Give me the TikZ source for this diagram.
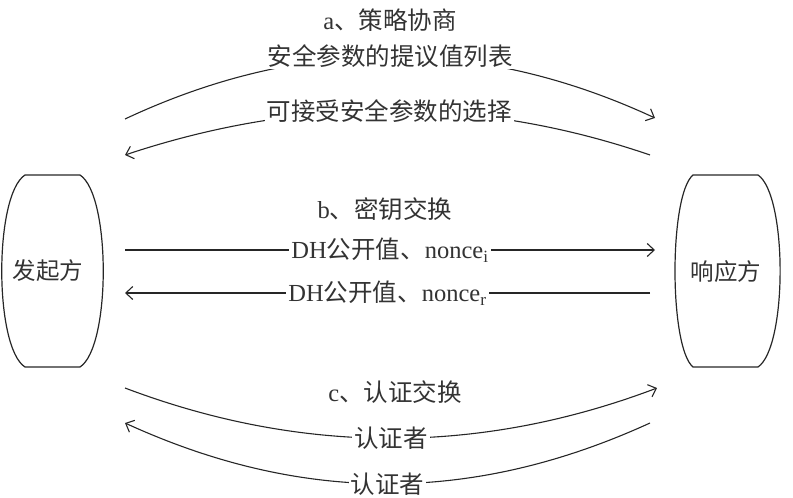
\documentclass[tikz,border=0pt]{standalone}
\usepackage{fontspec}
\setmainfont{Liberation Serif}
\newfontfamily\cjk{Noto Sans CJK SC}
\usetikzlibrary{arrows.meta}
\begin{document}
\begin{tikzpicture}[x=1pt,y=-1pt,
  txt/.style={font=\fontsize{24.5}{27}\selectfont, text=black!80, inner sep=2pt},
  lbl/.style={txt, fill=white, inner xsep=2pt, inner ysep=1pt},
  msg/.style={line width=1.1pt, draw=black!85, -{Straight Barb[length=7pt,width=13pt,line width=1.1pt]}},
  barrel/.style={line width=1.2pt, draw=black!85}]
\useasboundingbox (0,0) rectangle (793,498);

% parties
\draw[barrel] (25,175) -- (80,175) .. controls (111,195) and (111,347) .. (80,367)
  -- (25,367) .. controls (-6,347) and (-6,195) .. (25,175) -- cycle;
\node[txt, font=\fontsize{23.5}{26}\selectfont] (ini) at (48,271) {\cjk 发起方};
\draw[barrel] (693,175) -- (758,175) .. controls (787.5,195) and (787.5,347) .. (758,367)
  -- (693,367) .. controls (669,347) and (669,195) .. (693,175) -- cycle;
\node[txt, font=\fontsize{23.5}{26}\selectfont] (res) at (726,272) {\cjk 响应方};

% end points
\coordinate (a1s) at (125,119);
\coordinate (a1e) at (655,118);
\coordinate (a2s) at (650,155);
\coordinate (a2e) at (125,155);
\coordinate (b1s) at (125,250);
\coordinate (b1e) at (655,250);
\coordinate (b2s) at (650,293);
\coordinate (b2e) at (125,293);
\coordinate (c1s) at (125,388);
\coordinate (c1e) at (657,388);
\coordinate (c2s) at (650,423);
\coordinate (c2e) at (125,423);

% headers
\node[txt] (ha) at (390,20) {a{\cjk 、策略协商}};
\node[txt] (hb) at (385,209) {b{\cjk 、密钥交换}};
\node[txt] (hc) at (395,392) {c{\cjk 、认证交换}};

% a: policy negotiation
\draw[msg] (a1s) .. controls (302,36) and (478,36) .. node[lbl, pos=0.5] (ta1) {\cjk 安全参数的提议值列表} (a1e);
\draw[msg] (a2s) .. controls (478,96) and (302,96) .. node[lbl, pos=0.5] (ta2) {\cjk 可接受安全参数的选择} (a2e);

% b: key exchange
\draw[msg] (b1s) -- node[lbl] (tb1) {DH{\cjk 公开值、}nonce\textsubscript{i}} (b1e);
\draw[msg] (b2s) -- node[lbl] (tb2) {DH{\cjk 公开值、}nonce\textsubscript{r}} (b2e);

% c: authentication exchange
\draw[msg] (c1s) .. controls (302,455) and (480,455) .. node[lbl, pos=0.5] (tc1) {\cjk 认证者} (c1e);
\draw[msg] (c2s) .. controls (473,504) and (302,504) .. node[lbl, pos=0.5] (tc2) {\cjk 认证者} (c2e);
\end{tikzpicture}
\end{document}
